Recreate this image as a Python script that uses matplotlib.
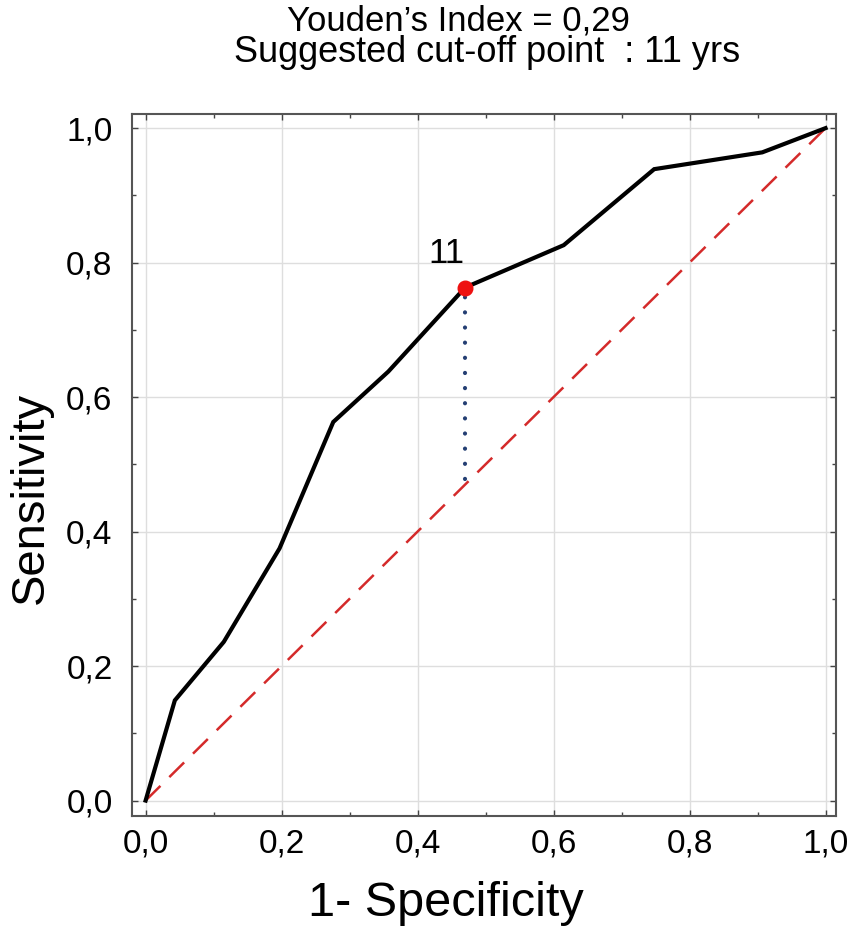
import matplotlib
matplotlib.use('Agg')
import matplotlib.pyplot as plt
from matplotlib.ticker import MultipleLocator, FuncFormatter

plt.rcParams['font.family'] = ['Liberation Sans', 'DejaVu Sans']
plt.rcParams['lines.scale_dashes'] = False

# ROC curve
fpr = [0.0, 0.043, 0.115, 0.197, 0.276, 0.357, 0.470, 0.615, 0.748, 0.907, 1.0]
tpr = [0.0, 0.149, 0.236, 0.375, 0.563, 0.638, 0.763, 0.826, 0.939, 0.964, 1.0]
cut_x, cut_y = 0.470, 0.763
cut_label = '11'
drop_end = 0.478
ref = [0.0, 1.0]

fig = plt.figure(figsize=(8.5, 9.4), dpi=100)
ax = fig.add_axes([0.1553, 0.1319, 0.8279, 0.7468])

ax.grid(True, which='major', color='#dedede', lw=1.0, zorder=0)
ax.plot(ref, ref, color='#d42a2a', lw=1.8, dashes=(15, 9), zorder=2)
ax.plot([cut_x, cut_x], [drop_end, cut_y], color='#243f73', lw=3.0,
        linestyle=(0, (0.1, 10.8)), dash_capstyle='round', zorder=2)
ax.plot(fpr, tpr, color='black', lw=3.0, solid_joinstyle='miter', zorder=3)
ax.plot([cut_x], [cut_y], 'o', color='#ee1111', ms=10.5, zorder=4)
ax.text(cut_x - 0.028, cut_y + 0.036, cut_label, fontsize=25, ha='center',
        va='baseline')

ax.set_xlim(-0.020, 1.015)
ax.set_ylim(-0.023, 1.021)
ax.xaxis.set_major_locator(MultipleLocator(0.2))
ax.yaxis.set_major_locator(MultipleLocator(0.2))
ax.xaxis.set_minor_locator(MultipleLocator(0.1))
ax.yaxis.set_minor_locator(MultipleLocator(0.1))
fmt = FuncFormatter(lambda v, p: f'{v:.1f}'.replace('.', ','))
ax.xaxis.set_major_formatter(fmt)
ax.yaxis.set_major_formatter(fmt)

ax.tick_params(which='both', direction='in', top=True, right=True,
               color='#444444', width=1.0)
ax.tick_params(which='major', length=4)
ax.tick_params(which='minor', length=3)
ax.tick_params(axis='x', labelsize=24, pad=9)
ax.tick_params(axis='y', labelsize=24, pad=14)
for s in ax.spines.values():
    s.set_color('#555555')
    s.set_linewidth(1.5)

ax.set_xlabel('1- Specificity', fontsize=35)
ax.set_ylabel('Sensitivity', fontsize=34)
ax.xaxis.set_label_coords(0.4455, -0.093)
ax.yaxis.set_label_coords(-0.112, 0.453)

fig.text(0.539, 0.968, 'Youden\u2019s Index = 0,29', fontsize=25,
         ha='center', va='baseline')
fig.text(0.573, 0.934, 'Suggested cut-off point  : 11 yrs', fontsize=26,
         ha='center', va='baseline')

fig.savefig('out.png', dpi=100, facecolor='white')
